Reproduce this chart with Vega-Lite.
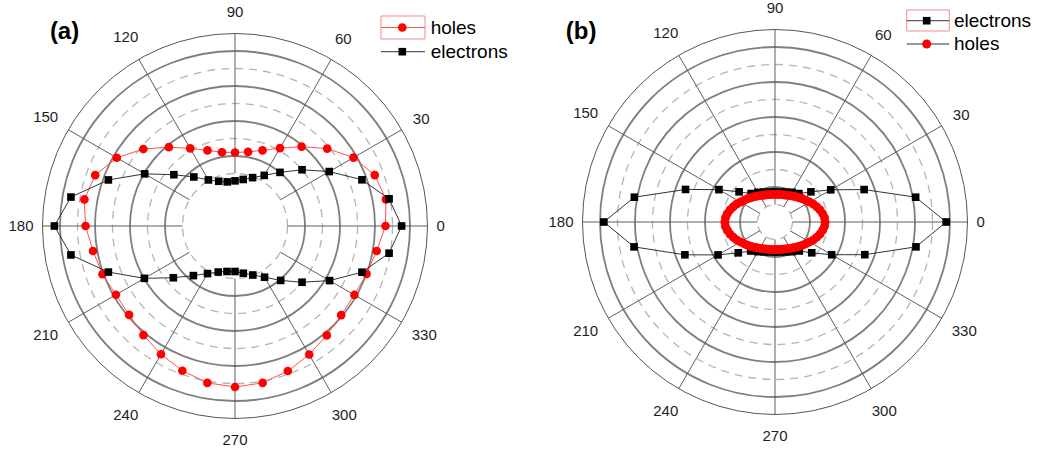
{
  "$schema": "https://vega.github.io/schema/vega-lite/v6.json",
  "padding": 0,
  "spacing": 0,
  "background": "white",
  "config": {"view": {"stroke": null}, "font": "Liberation Sans"},
  "datasets": {
    "panelA": [
      {"series": "holes", "angle": 0, "r": 4.30}, {"series": "holes", "angle": 10, "r": 4.38}, {"series": "holes", "angle": 20, "r": 4.25},
      {"series": "holes", "angle": 30, "r": 3.91}, {"series": "holes", "angle": 40, "r": 3.44}, {"series": "holes", "angle": 50, "r": 2.96},
      {"series": "holes", "angle": 60, "r": 2.57}, {"series": "holes", "angle": 70, "r": 2.30}, {"series": "holes", "angle": 80, "r": 2.15},
      {"series": "holes", "angle": 90, "r": 2.10}, {"series": "holes", "angle": 100, "r": 2.14}, {"series": "holes", "angle": 110, "r": 2.30},
      {"series": "holes", "angle": 120, "r": 2.56}, {"series": "holes", "angle": 130, "r": 2.94}, {"series": "holes", "angle": 140, "r": 3.42},
      {"series": "holes", "angle": 150, "r": 3.90}, {"series": "holes", "angle": 160, "r": 4.25}, {"series": "holes", "angle": 170, "r": 4.37},
      {"series": "holes", "angle": 180, "r": 4.27}, {"series": "holes", "angle": 190, "r": 4.12}, {"series": "holes", "angle": 200, "r": 4.03},
      {"series": "holes", "angle": 210, "r": 3.93}, {"series": "holes", "angle": 220, "r": 3.95}, {"series": "holes", "angle": 230, "r": 4.07},
      {"series": "holes", "angle": 240, "r": 4.23}, {"series": "holes", "angle": 250, "r": 4.40}, {"series": "holes", "angle": 260, "r": 4.55},
      {"series": "holes", "angle": 270, "r": 4.60}, {"series": "holes", "angle": 280, "r": 4.55}, {"series": "holes", "angle": 290, "r": 4.41},
      {"series": "holes", "angle": 300, "r": 4.24}, {"series": "holes", "angle": 310, "r": 4.08}, {"series": "holes", "angle": 320, "r": 3.96},
      {"series": "holes", "angle": 330, "r": 3.94}, {"series": "holes", "angle": 340, "r": 4.00}, {"series": "holes", "angle": 350, "r": 4.11},
      {"series": "electrons", "angle": 0, "r": 4.76}, {"series": "electrons", "angle": 10, "r": 4.47}, {"series": "electrons", "angle": 20, "r": 3.86},
      {"series": "electrons", "angle": 30, "r": 3.11}, {"series": "electrons", "angle": 40, "r": 2.50}, {"series": "electrons", "angle": 50, "r": 2.00},
      {"series": "electrons", "angle": 60, "r": 1.67}, {"series": "electrons", "angle": 70, "r": 1.47}, {"series": "electrons", "angle": 80, "r": 1.35},
      {"series": "electrons", "angle": 90, "r": 1.29}, {"series": "electrons", "angle": 100, "r": 1.28}, {"series": "electrons", "angle": 110, "r": 1.36},
      {"series": "electrons", "angle": 120, "r": 1.52}, {"series": "electrons", "angle": 130, "r": 1.83}, {"series": "electrons", "angle": 140, "r": 2.28},
      {"series": "electrons", "angle": 150, "r": 2.98}, {"series": "electrons", "angle": 160, "r": 3.85}, {"series": "electrons", "angle": 170, "r": 4.76},
      {"series": "electrons", "angle": 180, "r": 5.16}, {"series": "electrons", "angle": 190, "r": 4.76}, {"series": "electrons", "angle": 200, "r": 3.85},
      {"series": "electrons", "angle": 210, "r": 2.99}, {"series": "electrons", "angle": 220, "r": 2.30}, {"series": "electrons", "angle": 230, "r": 1.85},
      {"series": "electrons", "angle": 240, "r": 1.57}, {"series": "electrons", "angle": 250, "r": 1.40}, {"series": "electrons", "angle": 260, "r": 1.32},
      {"series": "electrons", "angle": 270, "r": 1.30}, {"series": "electrons", "angle": 280, "r": 1.37}, {"series": "electrons", "angle": 290, "r": 1.49},
      {"series": "electrons", "angle": 300, "r": 1.69}, {"series": "electrons", "angle": 310, "r": 2.03}, {"series": "electrons", "angle": 320, "r": 2.50},
      {"series": "electrons", "angle": 330, "r": 3.12}, {"series": "electrons", "angle": 340, "r": 3.86}, {"series": "electrons", "angle": 350, "r": 4.47}
    ],
    "panelB": [
      {"series": "holes", "angle": 0, "r": 1.43}, {"series": "holes", "angle": 5, "r": 1.42}, {"series": "holes", "angle": 10, "r": 1.38},
      {"series": "holes", "angle": 15, "r": 1.33}, {"series": "holes", "angle": 20, "r": 1.27}, {"series": "holes", "angle": 25, "r": 1.21},
      {"series": "holes", "angle": 30, "r": 1.14}, {"series": "holes", "angle": 35, "r": 1.08}, {"series": "holes", "angle": 40, "r": 1.03},
      {"series": "holes", "angle": 45, "r": 0.98}, {"series": "holes", "angle": 50, "r": 0.94}, {"series": "holes", "angle": 55, "r": 0.90},
      {"series": "holes", "angle": 60, "r": 0.87}, {"series": "holes", "angle": 65, "r": 0.84}, {"series": "holes", "angle": 70, "r": 0.82},
      {"series": "holes", "angle": 75, "r": 0.81}, {"series": "holes", "angle": 80, "r": 0.80}, {"series": "holes", "angle": 85, "r": 0.79},
      {"series": "holes", "angle": 90, "r": 0.79}, {"series": "holes", "angle": 95, "r": 0.79}, {"series": "holes", "angle": 100, "r": 0.80},
      {"series": "holes", "angle": 105, "r": 0.81}, {"series": "holes", "angle": 110, "r": 0.82}, {"series": "holes", "angle": 115, "r": 0.84},
      {"series": "holes", "angle": 120, "r": 0.87}, {"series": "holes", "angle": 125, "r": 0.90}, {"series": "holes", "angle": 130, "r": 0.94},
      {"series": "holes", "angle": 135, "r": 0.98}, {"series": "holes", "angle": 140, "r": 1.03}, {"series": "holes", "angle": 145, "r": 1.08},
      {"series": "holes", "angle": 150, "r": 1.14}, {"series": "holes", "angle": 155, "r": 1.21}, {"series": "holes", "angle": 160, "r": 1.27},
      {"series": "holes", "angle": 165, "r": 1.33}, {"series": "holes", "angle": 170, "r": 1.38}, {"series": "holes", "angle": 175, "r": 1.42},
      {"series": "holes", "angle": 180, "r": 1.43}, {"series": "holes", "angle": 185, "r": 1.42}, {"series": "holes", "angle": 190, "r": 1.38},
      {"series": "holes", "angle": 195, "r": 1.33}, {"series": "holes", "angle": 200, "r": 1.27}, {"series": "holes", "angle": 205, "r": 1.21},
      {"series": "holes", "angle": 210, "r": 1.14}, {"series": "holes", "angle": 215, "r": 1.08}, {"series": "holes", "angle": 220, "r": 1.03},
      {"series": "holes", "angle": 225, "r": 0.98}, {"series": "holes", "angle": 230, "r": 0.94}, {"series": "holes", "angle": 235, "r": 0.90},
      {"series": "holes", "angle": 240, "r": 0.87}, {"series": "holes", "angle": 245, "r": 0.84}, {"series": "holes", "angle": 250, "r": 0.82},
      {"series": "holes", "angle": 255, "r": 0.81}, {"series": "holes", "angle": 260, "r": 0.80}, {"series": "holes", "angle": 265, "r": 0.79},
      {"series": "holes", "angle": 270, "r": 0.79}, {"series": "holes", "angle": 275, "r": 0.79}, {"series": "holes", "angle": 280, "r": 0.80},
      {"series": "holes", "angle": 285, "r": 0.81}, {"series": "holes", "angle": 290, "r": 0.82}, {"series": "holes", "angle": 295, "r": 0.84},
      {"series": "holes", "angle": 300, "r": 0.87}, {"series": "holes", "angle": 305, "r": 0.90}, {"series": "holes", "angle": 310, "r": 0.94},
      {"series": "holes", "angle": 315, "r": 0.98}, {"series": "holes", "angle": 320, "r": 1.03}, {"series": "holes", "angle": 325, "r": 1.08},
      {"series": "holes", "angle": 330, "r": 1.14}, {"series": "holes", "angle": 335, "r": 1.21}, {"series": "holes", "angle": 340, "r": 1.27},
      {"series": "holes", "angle": 345, "r": 1.33}, {"series": "holes", "angle": 350, "r": 1.38}, {"series": "holes", "angle": 355, "r": 1.42},
      {"series": "electrons", "angle": 0, "r": 4.89}, {"series": "electrons", "angle": 10, "r": 4.08}, {"series": "electrons", "angle": 20, "r": 2.71},
      {"series": "electrons", "angle": 30, "r": 1.84}, {"series": "electrons", "angle": 40, "r": 1.34}, {"series": "electrons", "angle": 50, "r": 1.06},
      {"series": "electrons", "angle": 60, "r": 0.98}, {"series": "electrons", "angle": 70, "r": 0.91}, {"series": "electrons", "angle": 80, "r": 0.87},
      {"series": "electrons", "angle": 90, "r": 0.86}, {"series": "electrons", "angle": 100, "r": 0.87}, {"series": "electrons", "angle": 110, "r": 0.91},
      {"series": "electrons", "angle": 120, "r": 0.98}, {"series": "electrons", "angle": 130, "r": 1.06}, {"series": "electrons", "angle": 140, "r": 1.34},
      {"series": "electrons", "angle": 150, "r": 1.85}, {"series": "electrons", "angle": 160, "r": 2.72}, {"series": "electrons", "angle": 170, "r": 4.08},
      {"series": "electrons", "angle": 180, "r": 4.89}, {"series": "electrons", "angle": 190, "r": 4.09}, {"series": "electrons", "angle": 200, "r": 2.74},
      {"series": "electrons", "angle": 210, "r": 1.88}, {"series": "electrons", "angle": 220, "r": 1.37}, {"series": "electrons", "angle": 230, "r": 1.08},
      {"series": "electrons", "angle": 240, "r": 0.98}, {"series": "electrons", "angle": 250, "r": 0.91}, {"series": "electrons", "angle": 260, "r": 0.87},
      {"series": "electrons", "angle": 270, "r": 0.86}, {"series": "electrons", "angle": 280, "r": 0.87}, {"series": "electrons", "angle": 290, "r": 0.91},
      {"series": "electrons", "angle": 300, "r": 0.98}, {"series": "electrons", "angle": 310, "r": 1.08}, {"series": "electrons", "angle": 320, "r": 1.37},
      {"series": "electrons", "angle": 330, "r": 1.87}, {"series": "electrons", "angle": 340, "r": 2.73}, {"series": "electrons", "angle": 350, "r": 4.09}
    ],
    "angleLabels": [
      {"angle": 0, "label": "0"}, {"angle": 30, "label": "30"}, {"angle": 60, "label": "60"}, {"angle": 90, "label": "90"},
      {"angle": 120, "label": "120"}, {"angle": 150, "label": "150"}, {"angle": 180, "label": "180"}, {"angle": 210, "label": "210"},
      {"angle": 240, "label": "240"}, {"angle": 270, "label": "270"}, {"angle": 300, "label": "300"}, {"angle": 330, "label": "330"}
    ],
    "single": [{}]
  },
  "hconcat": [
    {
      "width": 520,
      "height": 454,
      "layer": [
        {
          "data": {"values": [{"r": 1.5}, {"r": 2.5}, {"r": 3.5}, {"r": 4.5}]},
          "mark": {"type": "point", "shape": "circle", "filled": false, "opacity": 1, "stroke": "#b5b5b5", "strokeWidth": 1.3, "strokeDash": [8, 6]},
          "encoding": {
            "x": {"datum": 0, "type": "quantitative", "scale": {"domain": [-6.7143, 8.1429], "nice": false, "zero": false}, "axis": null},
            "y": {"datum": 0, "type": "quantitative", "scale": {"domain": [-6.5143, 6.4571], "nice": false, "zero": false}, "axis": null},
            "size": {"field": "r", "type": "quantitative", "scale": {"type": "pow", "exponent": 2, "domain": [0, 5.5], "range": [0, 148225]}, "legend": null}
          }
        },
        {
          "data": {"values": [{"r": 2}, {"r": 3}, {"r": 4}, {"r": 5}]},
          "mark": {"type": "point", "shape": "circle", "filled": false, "opacity": 1, "stroke": "#7f7f7f", "strokeWidth": 1.8},
          "encoding": {
            "x": {"datum": 0, "type": "quantitative", "scale": {"domain": [-6.7143, 8.1429], "nice": false, "zero": false}, "axis": null},
            "y": {"datum": 0, "type": "quantitative", "scale": {"domain": [-6.5143, 6.4571], "nice": false, "zero": false}, "axis": null},
            "size": {"field": "r", "type": "quantitative", "scale": {"type": "pow", "exponent": 2, "domain": [0, 5.5], "range": [0, 148225]}, "legend": null}
          }
        },
        {
          "data": {"values": [{"r": 5.5}]},
          "mark": {"type": "point", "shape": "circle", "filled": false, "opacity": 1, "stroke": "#555555", "strokeWidth": 1},
          "encoding": {
            "x": {"datum": 0, "type": "quantitative", "scale": {"domain": [-6.7143, 8.1429], "nice": false, "zero": false}, "axis": null},
            "y": {"datum": 0, "type": "quantitative", "scale": {"domain": [-6.5143, 6.4571], "nice": false, "zero": false}, "axis": null},
            "size": {"field": "r", "type": "quantitative", "scale": {"type": "pow", "exponent": 2, "domain": [0, 5.5], "range": [0, 148225]}, "legend": null}
          }
        },
        {
          "data": {"name": "angleLabels"},
          "transform": [
            {"calculate": "1.5*cos(datum.angle*PI/180)", "as": "x1"},
            {"calculate": "1.5*sin(datum.angle*PI/180)", "as": "y1"},
            {"calculate": "5.5*cos(datum.angle*PI/180)", "as": "x2"},
            {"calculate": "5.5*sin(datum.angle*PI/180)", "as": "y2"}
          ],
          "mark": {"type": "rule", "color": "#5e5e5e", "strokeWidth": 1},
          "encoding": {
            "x": {"field": "x1", "type": "quantitative", "scale": {"domain": [-6.7143, 8.1429], "nice": false, "zero": false}, "axis": null},
            "y": {"field": "y1", "type": "quantitative", "scale": {"domain": [-6.5143, 6.4571], "nice": false, "zero": false}, "axis": null},
            "x2": {"field": "x2"},
            "y2": {"field": "y2"}
          }
        },
        {
          "data": {"name": "angleLabels"},
          "transform": [
            {"calculate": "cos(datum.angle*PI/180)", "as": "c"},
            {"calculate": "sin(datum.angle*PI/180)", "as": "s"},
            {"calculate": "(201.5 + length(datum.label)*4.17*abs(datum.c) + 12.5*abs(datum.s))/35", "as": "d"},
            {"calculate": "datum.d*datum.c", "as": "lx"},
            {"calculate": "datum.d*datum.s", "as": "ly"}
          ],
          "mark": {"type": "text", "fontSize": 15, "color": "#1e1e1e", "align": "center", "baseline": "middle"},
          "encoding": {
            "x": {"field": "lx", "type": "quantitative", "scale": {"domain": [-6.7143, 8.1429], "nice": false, "zero": false}, "axis": null},
            "y": {"field": "ly", "type": "quantitative", "scale": {"domain": [-6.5143, 6.4571], "nice": false, "zero": false}, "axis": null},
            "text": {"field": "label"}
          }
        },
        {
          "data": {"name": "panelA"},
          "transform": [
            {"calculate": "datum.r*cos(datum.angle*PI/180)", "as": "x"},
            {"calculate": "datum.r*sin(datum.angle*PI/180)", "as": "y"}
          ],
          "mark": {"type": "line", "interpolate": "linear-closed", "strokeWidth": 1},
          "encoding": {
            "x": {"field": "x", "type": "quantitative", "scale": {"domain": [-6.7143, 8.1429], "nice": false, "zero": false}, "axis": null},
            "y": {"field": "y", "type": "quantitative", "scale": {"domain": [-6.5143, 6.4571], "nice": false, "zero": false}, "axis": null},
            "color": {"field": "series", "type": "nominal", "scale": {"domain": ["holes", "electrons"], "range": ["#ff5050", "#333333"]}, "legend": null},
            "order": {"field": "angle", "type": "quantitative"}
          }
        },
        {
          "data": {"name": "panelA"},
          "transform": [
            {"calculate": "datum.r*cos(datum.angle*PI/180)", "as": "x"},
            {"calculate": "datum.r*sin(datum.angle*PI/180)", "as": "y"}
          ],
          "mark": {"type": "point", "filled": true, "opacity": 1},
          "encoding": {
            "x": {"field": "x", "type": "quantitative", "scale": {"domain": [-6.7143, 8.1429], "nice": false, "zero": false}, "axis": null},
            "y": {"field": "y", "type": "quantitative", "scale": {"domain": [-6.5143, 6.4571], "nice": false, "zero": false}, "axis": null},
            "fill": {"field": "series", "type": "nominal", "scale": {"domain": ["holes", "electrons"], "range": ["#ff0000", "#000000"]}, "legend": null},
            "shape": {"field": "series", "type": "nominal", "scale": {"domain": ["holes", "electrons"], "range": ["circle", "square"]}, "legend": null},
            "size": {"field": "series", "type": "nominal", "scale": {"domain": ["holes", "electrons"], "range": [75, 58]}, "legend": null}
          }
        },
        {
          "data": {"name": "single"},
          "mark": {"type": "text", "text": "(a)", "fontSize": 24, "fontWeight": "bold", "color": "#000000", "align": "center", "baseline": "middle"},
          "encoding": {
            "x": {"datum": -4.87, "type": "quantitative", "scale": {"domain": [-6.7143, 8.1429], "nice": false, "zero": false}, "axis": null},
            "y": {"datum": 5.54, "type": "quantitative", "scale": {"domain": [-6.5143, 6.4571], "nice": false, "zero": false}, "axis": null}
          }
        },
        {
          "data": {"name": "single"},
          "mark": {"type": "rect", "filled": false, "fill": null, "stroke": "#f28c8c", "strokeWidth": 1},
          "encoding": {
            "x": {"datum": 4.171, "type": "quantitative", "scale": {"domain": [-6.7143, 8.1429], "nice": false, "zero": false}, "axis": null},
            "x2": {"datum": 5.429},
            "y": {"datum": 6.0, "type": "quantitative", "scale": {"domain": [-6.5143, 6.4571], "nice": false, "zero": false}, "axis": null},
            "y2": {"datum": 5.343}
          }
        },
        {
          "data": {"name": "single"},
          "mark": {"type": "rule", "color": "#ff5050", "strokeWidth": 1},
          "encoding": {
            "x": {"datum": 4.171, "type": "quantitative", "scale": {"domain": [-6.7143, 8.1429], "nice": false, "zero": false}, "axis": null},
            "x2": {"datum": 5.429},
            "y": {"datum": 5.671, "type": "quantitative", "scale": {"domain": [-6.5143, 6.4571], "nice": false, "zero": false}, "axis": null}
          }
        },
        {
          "data": {"name": "single"},
          "mark": {"type": "point", "shape": "circle", "filled": true, "opacity": 1, "size": 75, "color": "#ff0000"},
          "encoding": {
            "x": {"datum": 4.78, "type": "quantitative", "scale": {"domain": [-6.7143, 8.1429], "nice": false, "zero": false}, "axis": null},
            "y": {"datum": 5.671, "type": "quantitative", "scale": {"domain": [-6.5143, 6.4571], "nice": false, "zero": false}, "axis": null}
          }
        },
        {
          "data": {"name": "single"},
          "mark": {"type": "text", "text": "holes", "fontSize": 19, "color": "#000000", "align": "left", "baseline": "middle"},
          "encoding": {
            "x": {"datum": 5.59, "type": "quantitative", "scale": {"domain": [-6.7143, 8.1429], "nice": false, "zero": false}, "axis": null},
            "y": {"datum": 5.671, "type": "quantitative", "scale": {"domain": [-6.5143, 6.4571], "nice": false, "zero": false}, "axis": null}
          }
        },
        {
          "data": {"name": "single"},
          "mark": {"type": "rule", "color": "#333333", "strokeWidth": 1},
          "encoding": {
            "x": {"datum": 4.171, "type": "quantitative", "scale": {"domain": [-6.7143, 8.1429], "nice": false, "zero": false}, "axis": null},
            "x2": {"datum": 5.429},
            "y": {"datum": 4.98, "type": "quantitative", "scale": {"domain": [-6.5143, 6.4571], "nice": false, "zero": false}, "axis": null}
          }
        },
        {
          "data": {"name": "single"},
          "mark": {"type": "point", "shape": "square", "filled": true, "opacity": 1, "size": 58, "color": "#000000"},
          "encoding": {
            "x": {"datum": 4.78, "type": "quantitative", "scale": {"domain": [-6.7143, 8.1429], "nice": false, "zero": false}, "axis": null},
            "y": {"datum": 4.98, "type": "quantitative", "scale": {"domain": [-6.5143, 6.4571], "nice": false, "zero": false}, "axis": null}
          }
        },
        {
          "data": {"name": "single"},
          "mark": {"type": "text", "text": "electrons", "fontSize": 19, "color": "#000000", "align": "left", "baseline": "middle"},
          "encoding": {
            "x": {"datum": 5.59, "type": "quantitative", "scale": {"domain": [-6.7143, 8.1429], "nice": false, "zero": false}, "axis": null},
            "y": {"datum": 4.98, "type": "quantitative", "scale": {"domain": [-6.5143, 6.4571], "nice": false, "zero": false}, "axis": null}
          }
        }
      ]
    },
    {
      "width": 519,
      "height": 454,
      "layer": [
        {
          "data": {"values": [{"r": 0.5}, {"r": 1.5}, {"r": 2.5}, {"r": 3.5}, {"r": 4.5}]},
          "mark": {"type": "point", "shape": "circle", "filled": false, "opacity": 1, "stroke": "#b5b5b5", "strokeWidth": 1.3, "strokeDash": [8, 6]},
          "encoding": {
            "x": {"datum": 0, "type": "quantitative", "scale": {"domain": [-7.2857, 7.5429], "nice": false, "zero": false}, "axis": null},
            "y": {"datum": 0, "type": "quantitative", "scale": {"domain": [-6.6286, 6.3429], "nice": false, "zero": false}, "axis": null},
            "size": {"field": "r", "type": "quantitative", "scale": {"type": "pow", "exponent": 2, "domain": [0, 5.5], "range": [0, 148225]}, "legend": null}
          }
        },
        {
          "data": {"values": [{"r": 1}, {"r": 2}, {"r": 3}, {"r": 4}, {"r": 5}]},
          "mark": {"type": "point", "shape": "circle", "filled": false, "opacity": 1, "stroke": "#7f7f7f", "strokeWidth": 1.8},
          "encoding": {
            "x": {"datum": 0, "type": "quantitative", "scale": {"domain": [-7.2857, 7.5429], "nice": false, "zero": false}, "axis": null},
            "y": {"datum": 0, "type": "quantitative", "scale": {"domain": [-6.6286, 6.3429], "nice": false, "zero": false}, "axis": null},
            "size": {"field": "r", "type": "quantitative", "scale": {"type": "pow", "exponent": 2, "domain": [0, 5.5], "range": [0, 148225]}, "legend": null}
          }
        },
        {
          "data": {"values": [{"r": 5.5}]},
          "mark": {"type": "point", "shape": "circle", "filled": false, "opacity": 1, "stroke": "#555555", "strokeWidth": 1},
          "encoding": {
            "x": {"datum": 0, "type": "quantitative", "scale": {"domain": [-7.2857, 7.5429], "nice": false, "zero": false}, "axis": null},
            "y": {"datum": 0, "type": "quantitative", "scale": {"domain": [-6.6286, 6.3429], "nice": false, "zero": false}, "axis": null},
            "size": {"field": "r", "type": "quantitative", "scale": {"type": "pow", "exponent": 2, "domain": [0, 5.5], "range": [0, 148225]}, "legend": null}
          }
        },
        {
          "data": {"name": "angleLabels"},
          "transform": [
            {"calculate": "0.5*cos(datum.angle*PI/180)", "as": "x1"},
            {"calculate": "0.5*sin(datum.angle*PI/180)", "as": "y1"},
            {"calculate": "5.5*cos(datum.angle*PI/180)", "as": "x2"},
            {"calculate": "5.5*sin(datum.angle*PI/180)", "as": "y2"}
          ],
          "mark": {"type": "rule", "color": "#5e5e5e", "strokeWidth": 1},
          "encoding": {
            "x": {"field": "x1", "type": "quantitative", "scale": {"domain": [-7.2857, 7.5429], "nice": false, "zero": false}, "axis": null},
            "y": {"field": "y1", "type": "quantitative", "scale": {"domain": [-6.6286, 6.3429], "nice": false, "zero": false}, "axis": null},
            "x2": {"field": "x2"},
            "y2": {"field": "y2"}
          }
        },
        {
          "data": {"name": "angleLabels"},
          "transform": [
            {"calculate": "cos(datum.angle*PI/180)", "as": "c"},
            {"calculate": "sin(datum.angle*PI/180)", "as": "s"},
            {"calculate": "(201.5 + length(datum.label)*4.17*abs(datum.c) + 12.5*abs(datum.s))/35", "as": "d"},
            {"calculate": "datum.d*datum.c", "as": "lx"},
            {"calculate": "datum.d*datum.s", "as": "ly"}
          ],
          "mark": {"type": "text", "fontSize": 15, "color": "#1e1e1e", "align": "center", "baseline": "middle"},
          "encoding": {
            "x": {"field": "lx", "type": "quantitative", "scale": {"domain": [-7.2857, 7.5429], "nice": false, "zero": false}, "axis": null},
            "y": {"field": "ly", "type": "quantitative", "scale": {"domain": [-6.6286, 6.3429], "nice": false, "zero": false}, "axis": null},
            "text": {"field": "label"}
          }
        },
        {
          "data": {"name": "panelB"},
          "transform": [
            {"calculate": "datum.r*cos(datum.angle*PI/180)", "as": "x"},
            {"calculate": "datum.r*sin(datum.angle*PI/180)", "as": "y"}
          ],
          "mark": {"type": "line", "interpolate": "linear-closed", "strokeWidth": 1},
          "encoding": {
            "x": {"field": "x", "type": "quantitative", "scale": {"domain": [-7.2857, 7.5429], "nice": false, "zero": false}, "axis": null},
            "y": {"field": "y", "type": "quantitative", "scale": {"domain": [-6.6286, 6.3429], "nice": false, "zero": false}, "axis": null},
            "color": {"field": "series", "type": "nominal", "scale": {"domain": ["electrons", "holes"], "range": ["#333333", "#ff3030"]}, "legend": null},
            "order": {"field": "angle", "type": "quantitative"}
          }
        },
        {
          "data": {"name": "panelB"},
          "transform": [
            {"calculate": "datum.r*cos(datum.angle*PI/180)", "as": "x"},
            {"calculate": "datum.r*sin(datum.angle*PI/180)", "as": "y"}
          ],
          "mark": {"type": "point", "filled": true, "opacity": 1},
          "encoding": {
            "x": {"field": "x", "type": "quantitative", "scale": {"domain": [-7.2857, 7.5429], "nice": false, "zero": false}, "axis": null},
            "y": {"field": "y", "type": "quantitative", "scale": {"domain": [-6.6286, 6.3429], "nice": false, "zero": false}, "axis": null},
            "fill": {"field": "series", "type": "nominal", "scale": {"domain": ["electrons", "holes"], "range": ["#000000", "#ff0000"]}, "legend": null},
            "shape": {"field": "series", "type": "nominal", "scale": {"domain": ["electrons", "holes"], "range": ["square", "circle"]}, "legend": null},
            "size": {"field": "series", "type": "nominal", "scale": {"domain": ["electrons", "holes"], "range": [58, 80]}, "legend": null},
            "order": {"field": "series", "type": "nominal", "sort": "ascending"}
          }
        },
        {
          "data": {"name": "single"},
          "mark": {"type": "text", "text": "(b)", "fontSize": 24, "fontWeight": "bold", "color": "#000000", "align": "center", "baseline": "middle"},
          "encoding": {
            "x": {"datum": -5.54, "type": "quantitative", "scale": {"domain": [-7.2857, 7.5429], "nice": false, "zero": false}, "axis": null},
            "y": {"datum": 5.42, "type": "quantitative", "scale": {"domain": [-6.6286, 6.3429], "nice": false, "zero": false}, "axis": null}
          }
        },
        {
          "data": {"name": "single"},
          "mark": {"type": "rect", "filled": false, "fill": null, "stroke": "#f28c8c", "strokeWidth": 1},
          "encoding": {
            "x": {"datum": 3.763, "type": "quantitative", "scale": {"domain": [-7.2857, 7.5429], "nice": false, "zero": false}, "axis": null},
            "x2": {"datum": 4.98},
            "y": {"datum": 6.057, "type": "quantitative", "scale": {"domain": [-6.6286, 6.3429], "nice": false, "zero": false}, "axis": null},
            "y2": {"datum": 5.457}
          }
        },
        {
          "data": {"name": "single"},
          "mark": {"type": "rule", "color": "#333333", "strokeWidth": 1},
          "encoding": {
            "x": {"datum": 3.763, "type": "quantitative", "scale": {"domain": [-7.2857, 7.5429], "nice": false, "zero": false}, "axis": null},
            "x2": {"datum": 4.98},
            "y": {"datum": 5.751, "type": "quantitative", "scale": {"domain": [-6.6286, 6.3429], "nice": false, "zero": false}, "axis": null}
          }
        },
        {
          "data": {"name": "single"},
          "mark": {"type": "point", "shape": "square", "filled": true, "opacity": 1, "size": 58, "color": "#000000"},
          "encoding": {
            "x": {"datum": 4.334, "type": "quantitative", "scale": {"domain": [-7.2857, 7.5429], "nice": false, "zero": false}, "axis": null},
            "y": {"datum": 5.751, "type": "quantitative", "scale": {"domain": [-6.6286, 6.3429], "nice": false, "zero": false}, "axis": null}
          }
        },
        {
          "data": {"name": "single"},
          "mark": {"type": "text", "text": "electrons", "fontSize": 19, "color": "#000000", "align": "left", "baseline": "middle"},
          "encoding": {
            "x": {"datum": 5.114, "type": "quantitative", "scale": {"domain": [-7.2857, 7.5429], "nice": false, "zero": false}, "axis": null},
            "y": {"datum": 5.751, "type": "quantitative", "scale": {"domain": [-6.6286, 6.3429], "nice": false, "zero": false}, "axis": null}
          }
        },
        {
          "data": {"name": "single"},
          "mark": {"type": "rule", "color": "#333333", "strokeWidth": 1},
          "encoding": {
            "x": {"datum": 3.763, "type": "quantitative", "scale": {"domain": [-7.2857, 7.5429], "nice": false, "zero": false}, "axis": null},
            "x2": {"datum": 4.98},
            "y": {"datum": 5.086, "type": "quantitative", "scale": {"domain": [-6.6286, 6.3429], "nice": false, "zero": false}, "axis": null}
          }
        },
        {
          "data": {"name": "single"},
          "mark": {"type": "point", "shape": "circle", "filled": true, "opacity": 1, "size": 80, "color": "#ff0000"},
          "encoding": {
            "x": {"datum": 4.334, "type": "quantitative", "scale": {"domain": [-7.2857, 7.5429], "nice": false, "zero": false}, "axis": null},
            "y": {"datum": 5.086, "type": "quantitative", "scale": {"domain": [-6.6286, 6.3429], "nice": false, "zero": false}, "axis": null}
          }
        },
        {
          "data": {"name": "single"},
          "mark": {"type": "text", "text": "holes", "fontSize": 19, "color": "#000000", "align": "left", "baseline": "middle"},
          "encoding": {
            "x": {"datum": 5.114, "type": "quantitative", "scale": {"domain": [-7.2857, 7.5429], "nice": false, "zero": false}, "axis": null},
            "y": {"datum": 5.086, "type": "quantitative", "scale": {"domain": [-6.6286, 6.3429], "nice": false, "zero": false}, "axis": null}
          }
        }
      ]
    }
  ]
}
